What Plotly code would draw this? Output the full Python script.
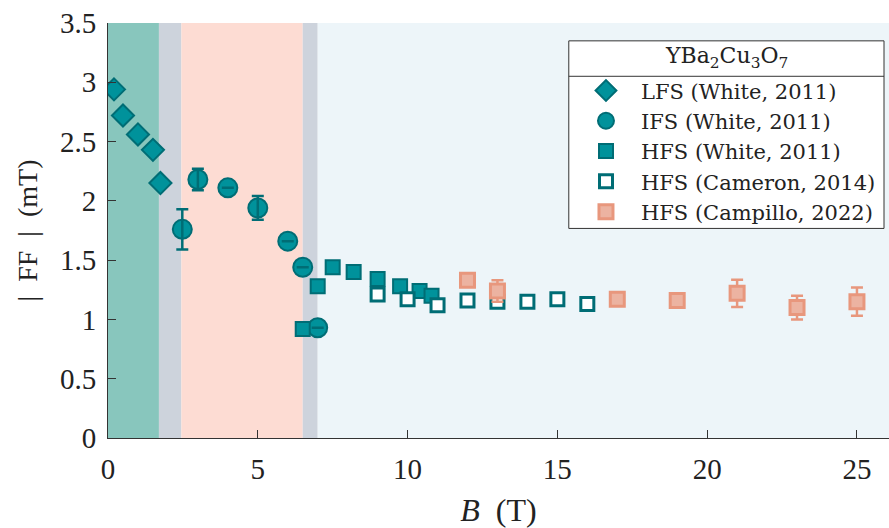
import plotly.graph_objects as go

# ---- data -------------------------------------------------------------
lfs_b = [0.2, 0.5, 1.0, 1.5, 1.75]
lfs_ff = [2.94, 2.72, 2.56, 2.43, 2.15]

ifs_b = [2.48, 3.0, 4.0, 5.0, 6.0, 6.5, 7.0]
ifs_ff = [1.76, 2.18, 2.11, 1.94, 1.66, 1.44, 0.93]
ifs_err = [0.17, 0.09, None, 0.10, 0.0, 0.0, 0.0]

hfs_white_b = [6.5, 7.0, 7.5, 8.2, 9.0, 9.75, 10.4, 10.8]
hfs_white_ff = [0.92, 1.28, 1.44, 1.40, 1.34, 1.28, 1.24, 1.20]

hfs_cam_b = [9.0, 10.0, 11.0, 12.0, 13.0, 14.0, 15.0, 16.0]
hfs_cam_ff = [1.21, 1.17, 1.12, 1.16, 1.15, 1.15, 1.17, 1.13]

hfs_camp_b = [12.0, 13.0, 17.0, 19.0, 21.0, 23.0, 25.0]
hfs_camp_ff = [1.33, 1.24, 1.17, 1.16, 1.22, 1.10, 1.15]
hfs_camp_err = [0.0, 0.09, 0.03, 0.0, 0.115, 0.10, 0.12]

# field regimes shaded behind the data: (start, end, colour)
band_edges = [0.0, 1.7, 2.45, 6.5, 7.0, 26.07]
band_colors = ["#88c6bd", "#cdd3dc", "#fddcd3", "#cdd3dc", "#edf5f9"]

x_ticks = [0, 5, 10, 15, 20, 25]
y_ticks = [0, 0.5, 1, 1.5, 2, 2.5, 3, 3.5]

TEAL = "#00929b"
TEAL_EDGE = "#006d75"
SALMON = "#e8977d"
SALMON_FILL = "#ecb3a1"
FONT = "Liberation Serif"
LEG_FONT = "DejaVu Serif"
EN = "\u2002"

fig = go.Figure()

fig.add_trace(go.Scatter(
    x=lfs_b, y=lfs_ff, mode="markers", name="LFS (White, 2011)",
    marker=dict(symbol="diamond", size=17, color=TEAL,
                line=dict(color=TEAL_EDGE, width=2)),
))
fig.add_trace(go.Scatter(
    x=ifs_b, y=ifs_ff, mode="markers", name="IFS (White, 2011)",
    marker=dict(symbol="circle", size=19, color=TEAL,
                line=dict(color=TEAL_EDGE, width=2)),
))
# error bars drawn over the circles
fig.add_trace(go.Scatter(
    x=ifs_b, y=ifs_ff, mode="markers", showlegend=False, hoverinfo="skip",
    marker=dict(size=1, opacity=0),
    error_y=dict(type="data", array=ifs_err, visible=True,
                 color=TEAL_EDGE, thickness=2.5, width=6),
))
fig.add_trace(go.Scatter(
    x=hfs_white_b, y=hfs_white_ff, mode="markers", name="HFS (White, 2011)",
    marker=dict(symbol="square", size=14, color=TEAL,
                line=dict(color=TEAL_EDGE, width=2)),
))
fig.add_trace(go.Scatter(
    x=hfs_cam_b, y=hfs_cam_ff, mode="markers", name="HFS (Cameron, 2014)",
    marker=dict(symbol="square", size=13, color="white",
                line=dict(color=TEAL_EDGE, width=3)),
))
fig.add_trace(go.Scatter(
    x=hfs_camp_b, y=hfs_camp_ff, mode="markers", name="HFS (Campillo, 2022)",
    marker=dict(symbol="square", size=14, color=SALMON_FILL,
                line=dict(color=SALMON, width=3)),
    error_y=dict(type="data", array=hfs_camp_err, visible=True,
                 color=SALMON, thickness=2.5, width=6),
))

shapes = []
for i, col in enumerate(band_colors):
    shapes.append(dict(type="rect", xref="x", yref="paper",
                       x0=band_edges[i], x1=band_edges[i + 1], y0=0, y1=1,
                       fillcolor=col, line=dict(width=0), layer="below"))

# legend frame with a rule under its heading
shapes.append(dict(type="rect", xref="paper", yref="paper",
                   x0=0.590, x1=0.9936, y0=0.505, y1=0.957,
                   fillcolor="white", line=dict(color="#333333", width=1),
                   layer="above"))
shapes.append(dict(type="line", xref="paper", yref="paper",
                   x0=0.590, x1=0.9936, y0=0.8716, y1=0.8716,
                   line=dict(color="#333333", width=1), layer="above"))

fig.update_layout(
    width=889, height=528,
    margin=dict(l=108, r=0, t=23, b=90),
    paper_bgcolor="white", plot_bgcolor="white",
    font=dict(family=FONT, color="#222222", size=29),
    shapes=shapes,
    showlegend=True,
    legend=dict(x=0.5928, y=0.886, xanchor="left", yanchor="top",
                bgcolor="rgba(0,0,0,0)", borderwidth=0,
                font=dict(family=LEG_FONT, size=21, color="#222222"),
                itemsizing="trace", itemwidth=60, tracegroupgap=0),
    annotations=[dict(
        text="YBa<sub>2</sub>Cu<sub>3</sub>O<sub>7</sub>",
        xref="paper", yref="paper", x=0.7918, y=0.916,
        xanchor="center", yanchor="middle", showarrow=False,
        font=dict(family=LEG_FONT, size=22, color="#222222"))],
)

fig.update_xaxes(
    range=[0, 26.07], tickvals=x_ticks, ticks="inside", ticklen=8,
    tickcolor="#333333", showline=True, linecolor="#333333", linewidth=1,
    showgrid=False, zeroline=False, ticklabelstandoff=5,
    title=dict(text="<i>B</i>" + EN + "(T)", font=dict(size=32), standoff=15),
)
fig.update_yaxes(
    range=[0, 3.5], tickvals=y_ticks, ticks="inside", ticklen=8,
    tickcolor="#333333", showline=True, linecolor="#333333", linewidth=1,
    showgrid=False, zeroline=False, ticklabelstandoff=5,
    title=dict(text="|" + EN + "FF" + EN + "|" + EN + "(mT)",
               font=dict(size=28), standoff=14),
)

fig.write_html("out.html")
